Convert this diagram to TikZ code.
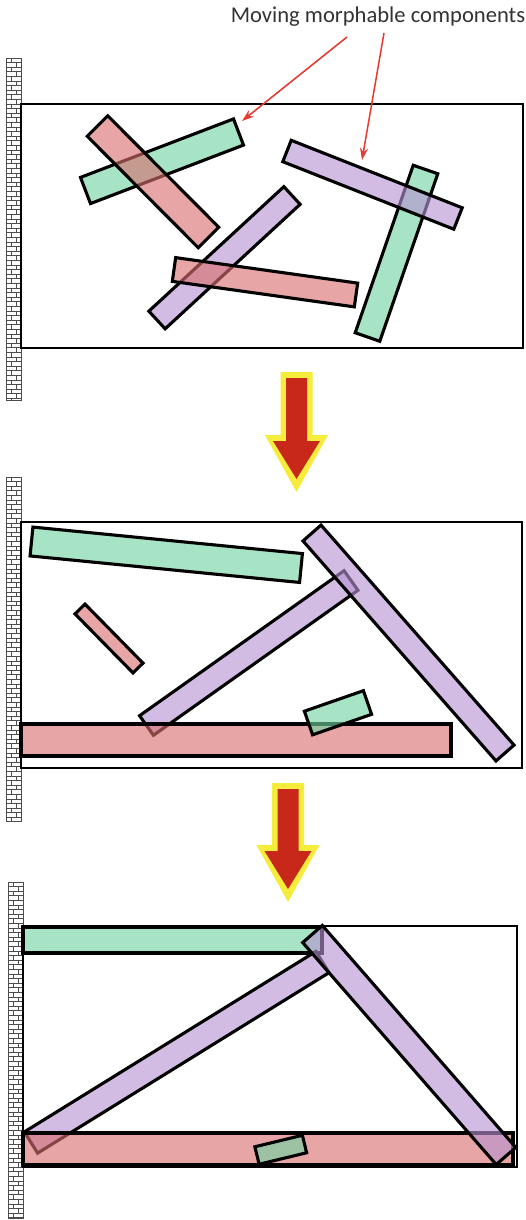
\documentclass[tikz,border=0pt]{standalone}
\usepackage{fontspec}
\newfontfamily\lblfont{Carlito}
\usetikzlibrary{calc,arrows.meta}
\definecolor{gbase}{RGB}{113,213,163}
\definecolor{rbase}{RGB}{217,110,110}
\definecolor{pbase}{RGB}{183,147,210}
\definecolor{arrred}{RGB}{200,40,25}
\definecolor{arryel}{RGB}{246,236,60}
\definecolor{callred}{RGB}{232,57,46}
\tikzset{
  barline/.style={draw=black,line width=3.1,line join=miter,fill opacity=0.62},
  framebox/.style={draw=black,line width=2},
  wallline/.style={draw=black!70,line width=0.75},
  callout/.style={draw=callred,line width=1.5,-{Stealth[length=12,width=8]}},
  bigarrowout/.style={fill=arryel,draw=none},
  bigarrowin/.style={fill=arrred,draw=none}
}
\newcommand\mybar[6]{%
  \path (#2,#3) coordinate (bp) (#4,#5) coordinate (bq);
  \filldraw[barline,fill=#1] ($(bp)!#6pt!90:(bq)$) -- ($(bq)!#6pt!-90:(bp)$) -- ($(bq)!#6pt!90:(bp)$) -- ($(bp)!#6pt!-90:(bq)$) -- cycle;}
\newcommand\brickwall[4]{%
  \draw[wallline,fill=white] (#1,#3) rectangle (#2,#4);
  \pgfmathtruncatemacro\nrows{floor((#4-#3)/4.6)}
  \foreach \i in {1,...,\nrows}{\draw[wallline] (#1,#3+\i*4.6) -- (#2,#3+\i*4.6);}
  \foreach \i in {0,...,\nrows}{%
    \pgfmathsetmacro\yya{#3+\i*4.6}
    \pgfmathsetmacro\yyb{min(#3+\i*4.6+4.6,#4)}
    \pgfmathsetmacro\xx{mod(\i,2)==0 ? #1+0.35*(#2-#1) : #1+0.68*(#2-#1)}
    \draw[wallline] (\xx,\yya) -- (\xx,\yyb);}
}
\newcommand\bigarrow[5]{% cx, top, heady, tip, name
  \fill[bigarrowout] (#1-16,#2) -- (#1+16,#2) -- (#1+16,#3) -- (#1+31.5,#3) -- (#1,#4) -- (#1-31.5,#3) -- (#1-16,#3) -- cycle;
  \fill[bigarrowin] (#1-10.5,#2+6) -- (#1+10.5,#2+6) -- (#1+10.5,#3+6) -- (#1+23.5,#3+6) -- (#1,#4-13) -- (#1-23.5,#3+6) -- (#1-10.5,#3+6) -- cycle;
}
\begin{document}
\begin{tikzpicture}[x=1pt,y=-1pt]
\useasboundingbox (0,0) rectangle (525,1220);
\fill[white] (0,0) rectangle (525,1220);

% label and callouts
\node[font=\lblfont\fontsize{22.6}{26}\selectfont,text=black!80,anchor=center,inner sep=0] (lbl) at (378,17) {Moving morphable components};
\coordinate (c1s) at (347,37);
\coordinate (c1e) at (242,121);
\coordinate (c2s) at (384,33);
\coordinate (c2e) at (362,160);

% ---------------- panel 1 ----------------
\brickwall{6}{21}{58}{400}
\draw[framebox] (21,104) rectangle (523,348);
\mybar{gbase}{85.5}{190.5}{238.5}{132}{14}
\mybar{rbase}{97.5}{126}{208.5}{237.5}{14.5}
\mybar{gbase}{425.5}{169.5}{367.5}{337}{13}
\mybar{pbase}{287}{151}{458}{218.5}{11.5}
\mybar{pbase}{292}{195.5}{157}{320}{12}
\mybar{rbase}{174}{269.5}{356}{295}{12}
\draw[callout] (c1s) -- (c1e);
\draw[callout] (c2s) -- (c2e);

% arrow 1
\bigarrow{296.5}{372}{435}{492}{a1}

% ---------------- panel 2 ----------------
\brickwall{6}{21}{477}{821}
\draw[framebox] (21,522) rectangle (522,768);
\mybar{gbase}{31.5}{541.5}{301}{568}{14.5}
\mybar{rbase}{80}{609}{138}{668}{7}
\mybar{pbase}{146.5}{725.5}{351}{580.5}{12}
\mybar{pbase}{312}{533}{505}{753}{12}
\filldraw[barline,fill=rbase] (21,724) rectangle (451,756);
\mybar{gbase}{308.5}{723}{367.5}{702.5}{12.5}

% arrow 2
\bigarrow{288}{783}{845}{902}{a2}

% ---------------- panel 3 ----------------
\brickwall{8}{23}{882}{1218}
\draw[framebox] (23,926) rectangle (517,1167);
\filldraw[barline,fill=gbase] (23,927) rectangle (322,953);
\mybar{pbase}{31}{1142.5}{322.5}{962}{12.5}
\filldraw[barline,fill=rbase] (23,1133) rectangle (513,1165);
\mybar{pbase}{312.5}{934}{506}{1156}{13}
\mybar{gbase}{257}{1155.5}{304.5}{1144}{9}
\end{tikzpicture}
\end{document}
